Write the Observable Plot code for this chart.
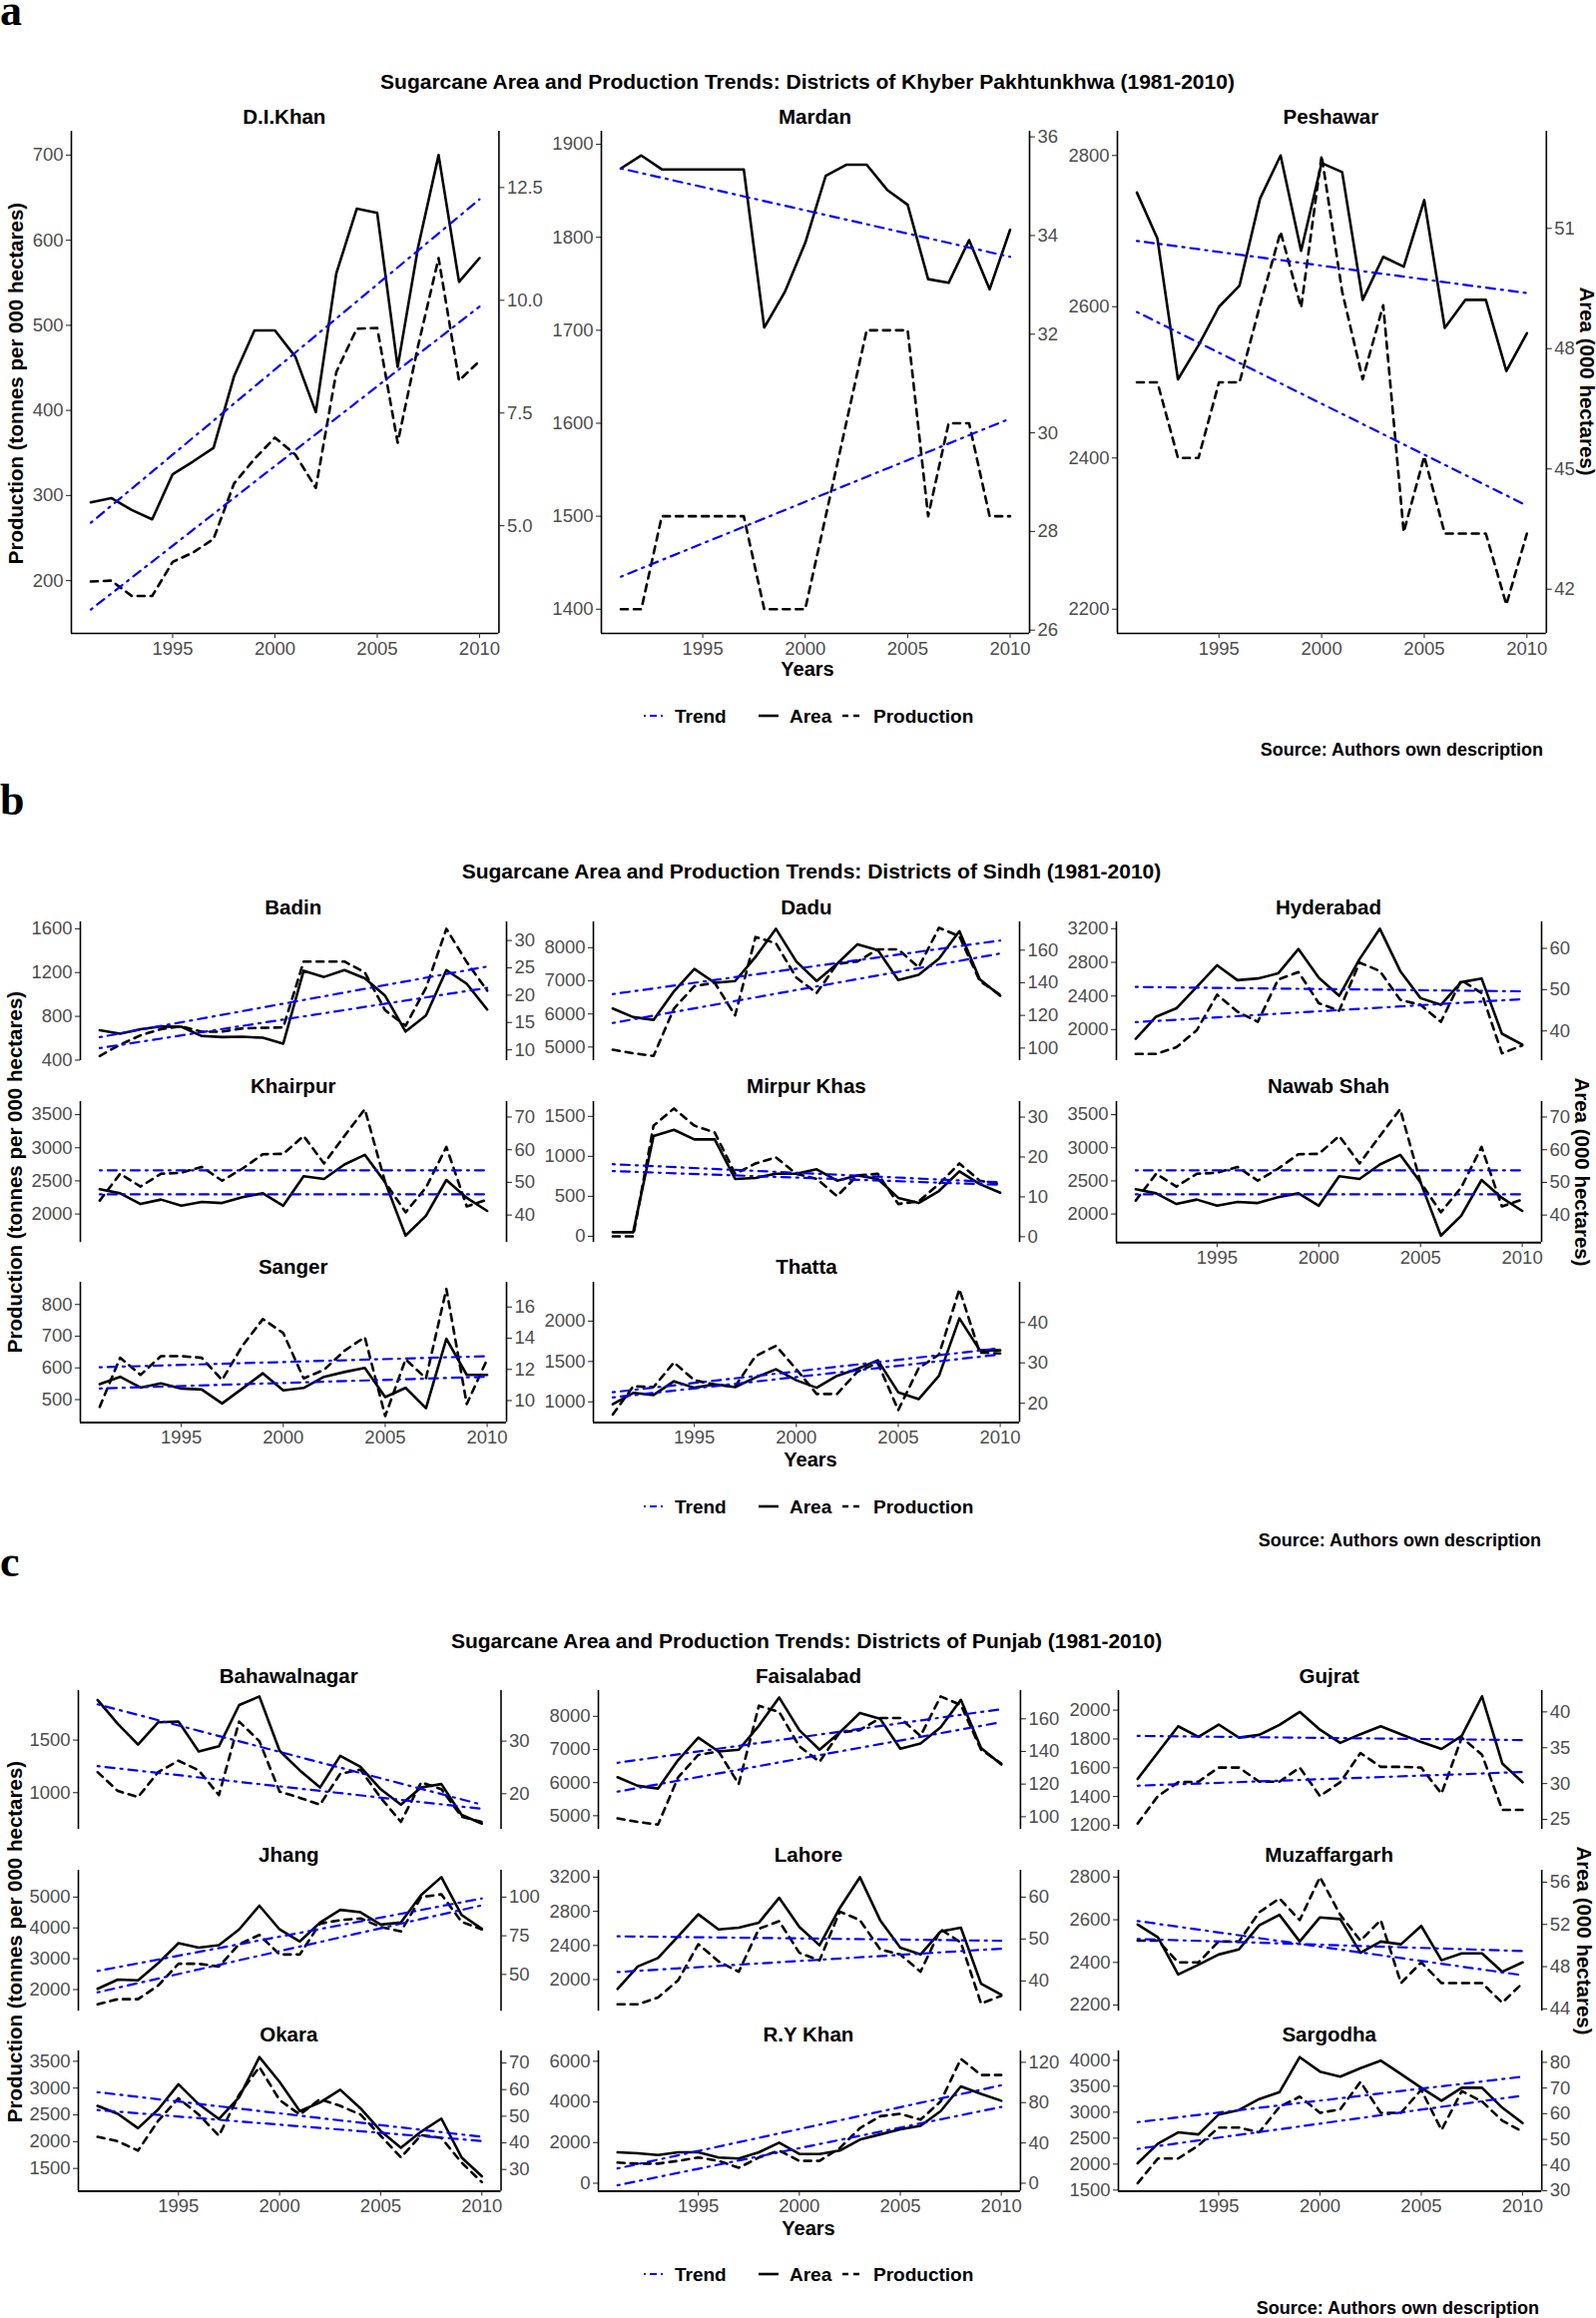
<!DOCTYPE html>
<html>
<head>
<meta charset="utf-8">
<script src="https://cdn.jsdelivr.net/npm/d3@7"></script>
<script src="https://cdn.jsdelivr.net/npm/@observablehq/plot@0.6"></script>
<style>
  html, body { margin: 0; padding: 0; background: #fff; }
  #root { position: relative; width: 1599px; height: 2322px; background: #fff; overflow: hidden;
          font-family: 'Liberation Sans', Arial, Helvetica, sans-serif; }
  .t { position: absolute; white-space: nowrap; line-height: 1; color: #000; }
</style>
</head>
<body>
<div id="root"></div>
<script>
// ---------------- DATA ----------------
const years = [1991,1992,1993,1994,1995,1996,1997,1998,1999,2000,2001,2002,2003,2004,2005,2006,2007,2008,2009,2010];
const xTicks = [1995, 2000, 2005, 2010];

// Panel a: Khyber Pakhtunkhwa
const diKhanArea = [292,297,283,272,325,340,356,440,494,494,463,398,561,637,632,451,592,700,551,579];
const diKhanProd = [199,200,182,182,222,233,249,314,343,368,348,309,445,496,497,362,476,579,435,458];
const diKhanTrend = [[268,648],[166,522]];
const diKhanLeft = [200,300,400,500,600,700];
const diKhanRight = [5,7.5,10,12.5];

const mardanArea = [1874,1888,1873,1873,1873,1873,1873,1703,1741,1794,1866,1878,1878,1851,1835,1755,1751,1797,1744,1808];
const mardanProd = [1400,1400,1500,1500,1500,1500,1500,1400,1400,1400,1500,1600,1700,1700,1700,1500,1600,1600,1500,1500];
const mardanTrend = [[1874,1779],[1435,1605]];
const mardanLeft = [1400,1500,1600,1700,1800,1900];
const mardanRight = [26,28,30,32,34,36];

const peshawarArea = [2751,2690,2504,2549,2600,2628,2743,2800,2674,2790,2778,2609,2666,2653,2741,2572,2609,2609,2515,2565];
const peshawarProd = [2500,2500,2400,2400,2500,2500,2602,2699,2599,2800,2620,2504,2602,2302,2402,2300,2300,2300,2206,2300];
const peshawarTrend = [[2687,2618],[2593,2337]];
const peshawarLeft = [2200,2400,2600,2800];
const peshawarRight = [42,45,48,51];

// Panel b: Sindh
const badinArea = [673,642,683,708,705,620,610,614,604,551,1217,1160,1223,1148,987,661,808,1223,1097,862];
const badinProd = [438,541,626,683,708,660,660,690,695,698,1301,1301,1301,1201,855,714,1060,1600,1295,1035];
const badinTrend = [[610,1255],[510,1060]];
const badinLeft = [400,800,1200,1600];
const badinRight = [10,15,20,25,30];

const daduArea = [6163,5903,5820,6682,7356,6941,6993,7720,8571,7585,6993,7512,8104,7927,7024,7180,7668,8498,7045,6547];
const daduProd = [4917,4813,4730,6163,6837,6941,5955,8322,8135,7097,6630,7512,7585,7948,7948,7408,8602,8343,6993,6578];
const daduTrend = [[6599,8218],[5727,7824]];
const daduLeft = [5000,6000,7000,8000];
const daduRight = [100,120,140,160];

const hyderabadArea = [1891,2153,2253,2507,2765,2588,2608,2668,2958,2616,2402,2837,3200,2697,2374,2294,2564,2608,1951,1822];
const hyderabadProd = [1710,1710,1790,1992,2415,2213,2092,2596,2684,2314,2225,2797,2697,2354,2294,2092,2588,2435,1718,1810];
const hyderabadTrend = [[2507,2455],[2088,2362]];
const hyderabadLeft = [2000,2400,2800,3200];
const hyderabadRight = [40,50,60];

const khairpurArea = [2374,2312,2151,2218,2125,2182,2166,2254,2312,2125,2571,2529,2747,2893,2478,1673,1974,2514,2244,2047];
const khairpurProd = [2203,2607,2415,2607,2623,2711,2503,2685,2903,2908,3178,2763,3178,3583,2478,2026,2400,3012,2114,2218];
const khairpurTrend = [[2659,2659],[2296,2296]];
const khairpurLeft = [2000,2500,3000,3500];
const khairpurRight = [40,50,60,70];

const mirpurArea = [51,51,1255,1332,1212,1212,718,730,782,782,838,696,761,718,481,417,567,812,653,546];
const mirpurProd = [0,0,1384,1599,1384,1298,782,911,988,782,718,503,761,782,404,438,653,911,696,653];
const mirpurTrend = [[902,675],[816,644]];
const mirpurLeft = [0,500,1000,1500];
const mirpurRight = [0,10,20,30];

const nawabArea = [2374,2312,2151,2218,2125,2182,2166,2254,2312,2125,2571,2529,2747,2893,2478,1673,1974,2514,2244,2047];
const nawabProd = [2203,2607,2415,2607,2623,2711,2503,2685,2903,2908,3178,2763,3178,3583,2478,2026,2400,3012,2114,2218];
const nawabTrend = [[2659,2659],[2296,2296]];
const nawabLeft = [2000,2500,3000,3500];
const nawabRight = [40,50,60,70];

const sangerArea = [549,572,538,551,535,532,488,535,583,529,537,572,587,600,508,537,473,692,578,578];
const sangerProd = [477,632,578,637,637,632,562,670,754,710,567,594,654,697,448,627,567,849,486,627];
const sangerTrend = [[602,637],[535,572]];
const sangerLeft = [500,600,700,800];
const sangerRight = [10,12,14,16];

const thattaArea = [970,1111,1085,1255,1175,1217,1183,1302,1404,1268,1175,1323,1409,1515,1119,1034,1323,2034,1638,1638];
const thattaProd = [843,1192,1183,1489,1268,1213,1192,1566,1694,1404,1098,1098,1374,1481,898,1417,1587,2396,1609,1600];
const thattaTrend = [[1119,1664],[1055,1587]];
const thattaLeft = [1000,1500,2000];
const thattaRight = [20,30,40];

// Panel c: Punjab
const bahawalArea = [1882,1654,1458,1670,1676,1392,1441,1833,1915,1399,1212,1049,1350,1245,1033,886,1049,1082,788,706];
const bahawalProd = [1196,1016,958,1196,1304,1212,977,1676,1490,1010,951,886,1180,1219,951,722,1098,1033,771,722];
const bahawalTrend = [[1840,886],[1252,846]];
const bahawalLeft = [1000,1500];
const bahawalRight = [20,30];

const faisalArea = [6163,5903,5820,6682,7356,6941,6993,7720,8571,7585,6993,7512,8104,7927,7024,7180,7668,8498,7045,6547];
const faisalProd = [4917,4813,4730,6163,6837,6941,5955,8322,8135,7097,6630,7512,7585,7948,7948,7408,8602,8343,6993,6578];
const faisalTrend = [[6599,8218],[5727,7824]];
const faisalLeft = [5000,6000,7000,8000];
const faisalRight = [100,120,140,160];

const gujratArea = [1522,1706,1888,1814,1900,1809,1828,1897,1988,1864,1773,1833,1888,1833,1778,1730,1821,2096,1630,1499];
const gujratProd = [1212,1403,1499,1503,1601,1601,1503,1503,1601,1403,1499,1702,1606,1606,1601,1420,1809,1690,1307,1307];
const gujratTrend = [[1821,1792],[1475,1570]];
const gujratLeft = [1200,1400,1600,1800,2000];
const gujratRight = [25,30,35,40];

const jhangArea = [2023,2324,2302,2859,3506,3361,3439,3952,4721,3952,3562,4175,4587,4509,4108,4175,5067,5647,4420,3974];
const jhangProd = [1521,1688,1688,2134,2837,2837,2748,3472,3774,3138,3138,4141,4253,4309,4030,3885,5000,5089,4197,3952];
const jhangTrend = [[2603,4955],[1911,4732]];
const jhangLeft = [2000,3000,4000,5000];
const jhangRight = [50,75,100];

const lahoreArea = [1891,2153,2253,2507,2765,2588,2608,2668,2958,2616,2402,2837,3200,2697,2374,2294,2564,2608,1951,1822];
const lahoreProd = [1710,1710,1790,1992,2415,2213,2092,2596,2684,2314,2225,2797,2697,2354,2294,2092,2588,2435,1718,1810];
const lahoreTrend = [[2507,2455],[2088,2362]];
const lahoreLeft = [2000,2400,2800,3200];
const lahoreRight = [40,50,60];

const muzaArea = [2577,2518,2343,2389,2437,2461,2574,2623,2498,2611,2603,2445,2498,2485,2571,2410,2442,2442,2356,2400];
const muzaProd = [2502,2502,2400,2400,2498,2498,2635,2700,2598,2800,2623,2502,2598,2303,2400,2303,2303,2303,2211,2303];
const muzaTrend = [[2594,2340],[2510,2453]];
const muzaLeft = [2200,2400,2600,2800];
const muzaRight = [44,48,52,56];

const okaraArea = [2667,2519,2250,2603,3071,2699,2423,2827,3577,3115,2571,2731,2968,2622,2199,1885,2186,2430,1705,1353];
const okaraProd = [2090,2006,1833,2391,2808,2506,2109,2878,3391,2776,2506,2795,2667,2506,2109,1705,2122,2071,1609,1244];
const okaraTrend = [[2923,2090],[2590,2013]];
const okaraLeft = [1500,2000,2500,3000,3500];
const okaraRight = [30,40,50,60,70];

const ryKhanArea = [1522,1471,1386,1522,1522,1268,1217,1522,1995,1437,1437,1606,2147,2400,2654,2823,3550,4766,4395,4057];
const ryKhanProd = [1015,964,964,1099,1268,1099,761,1268,1606,1099,1099,1724,2704,3296,3414,3127,4023,6118,5324,5324];
const ryKhanTrend = [[727,4817],[-100,3752]];
const ryKhanLeft = [0,2000,4000,6000];
const ryKhanRight = [0,40,80,120];

const sargodhaArea = [2016,2393,2611,2571,2955,3041,3253,3385,4060,3782,3683,3848,3993,3735,3471,3220,3471,3471,3087,2790];
const sargodhaProd = [1632,2108,2108,2360,2704,2704,2611,3101,3299,2988,3054,3583,2988,2988,3431,2657,3405,3206,2836,2624];
const sargodhaTrend = [[2809,3683],[2294,3319]];
const sargodhaLeft = [1500,2000,2500,3000,3500,4000];
const sargodhaRight = [30,40,50,60,70,80];

// ---------------- RENDER ----------------
const root = document.getElementById("root");
const FONT = "'Liberation Sans', Arial, Helvetica, sans-serif";
const X0 = 1990.05, X1 = 2010.95;

function txt(s, x, y, o = {}) {
  const d = document.createElement("div");
  d.className = "t";
  d.textContent = s;
  d.style.left = x + "px";
  d.style.top = y + "px";
  d.style.fontSize = (o.size || 18) + "px";
  d.style.fontWeight = o.weight || "bold";
  if (o.family) d.style.fontFamily = o.family;
  if (o.color) d.style.color = o.color;
  const ax = o.anchor === "start" ? "0" : o.anchor === "end" ? "-100%" : "-50%";
  d.style.transform = `translate(${ax},-50%)`;
  if (o.rotate) { d.style.transform = `translate(-50%,-50%) rotate(${o.rotate}deg)`; }
  root.appendChild(d);
  return d;
}

function subplot(s) {
  const ml = 80, mr = 70, mt = 12, mb = 40;
  const w = s.x1 - s.x0, h = s.y1 - s.y0;
  const [r1, l1, r2, l2] = s.map;
  const toLeft = r => l1 + (r - r1) * (l2 - l1) / (r2 - r1);
  const fmt = s.fmt ? d3.format(s.fmt) : (d => String(d));
  const tickStyle = {tickSize: 5, tickPadding: 3, label: null, fontSize: 18.5, fill: "#4d4d4d", stroke: "#333", strokeWidth: 1.1};
  const marks = [
    Plot.axisY(s.left, {...tickStyle, anchor: "left", tickFormat: d => String(d)}),
    Plot.axisY(s.right.map(toLeft), {...tickStyle, anchor: "right", tickFormat: (d, i) => fmt(s.right[i])}),
    Plot.ruleX([X0], {stroke: "black", strokeWidth: 1.6}),
    Plot.ruleX([X1], {stroke: "black", strokeWidth: 1.6}),
    Plot.lineY(s.area, {x: years, stroke: "black", strokeWidth: 2.6}),
    Plot.lineY(s.prod, {x: years, stroke: "black", strokeWidth: 2.6, strokeDasharray: "7,6"}),
    Plot.line([[1991, s.trend[0][0]], [2010, s.trend[0][1]]], {stroke: "#0000ff", strokeWidth: 2.2, strokeDasharray: "2,6,9,6"}),
    Plot.line([[1991, s.trend[1][0]], [2010, s.trend[1][1]]], {stroke: "#0000ff", strokeWidth: 2.2, strokeDasharray: "2,6,9,6"})
  ];
  if (s.showX) {
    marks.push(Plot.ruleY([s.domain[0]], {stroke: "black", strokeWidth: s.bw || 1.6}));
    marks.push(Plot.axisX(xTicks, {...tickStyle, anchor: "bottom", tickFormat: d => String(d)}));
  }
  const svg = Plot.plot({
    width: w + ml + mr, height: h + mt + mb,
    marginLeft: ml, marginRight: mr, marginTop: mt, marginBottom: mb,
    x: {domain: [X0, X1], axis: s.showX ? undefined : null},
    y: {domain: s.domain},
    style: {fontFamily: FONT, fontSize: "18.5px", color: "#4d4d4d", overflow: "visible", background: "none"},
    marks
  });
  svg.style.position = "absolute";
  svg.style.left = (s.x0 - ml) + "px";
  svg.style.top = (s.y0 - mt) + "px";
  root.appendChild(svg);
  txt(s.title, (s.x0 + s.x1) / 2, s.ty, {size: 20.5});
}

function legend(y) {
  const items = [
    {x: 645, tx: 676, label: "Trend", stroke: "#0000ff", dash: "2,4,7,4", w: 2.2},
    {x: 760, tx: 791, label: "Area", stroke: "black", dash: null, w: 2.6},
    {x: 844, tx: 875, label: "Production", stroke: "black", dash: "6,5", w: 2.6}
  ];
  for (const it of items) {
    const ns = "http://www.w3.org/2000/svg";
    const sv = document.createElementNS(ns, "svg");
    sv.setAttribute("width", 20); sv.setAttribute("height", 6);
    sv.style.position = "absolute"; sv.style.left = it.x + "px"; sv.style.top = (y - 3) + "px";
    const ln = document.createElementNS(ns, "line");
    ln.setAttribute("x1", 0); ln.setAttribute("x2", 20); ln.setAttribute("y1", 3); ln.setAttribute("y2", 3);
    ln.setAttribute("stroke", it.stroke); ln.setAttribute("stroke-width", it.w);
    if (it.dash) ln.setAttribute("stroke-dasharray", it.dash);
    sv.appendChild(ln);
    root.appendChild(sv);
    txt(it.label, it.tx, y, {size: 19, anchor: "start"});
  }
}

function letter(ch, top) {
  const d = document.createElement("div");
  d.className = "t";
  d.textContent = ch;
  d.style.left = "0px"; d.style.top = top + "px";
  d.style.lineHeight = "0.5";
  d.style.fontFamily = "'Liberation Serif', 'DejaVu Serif', serif";
  d.style.fontWeight = "bold"; d.style.fontSize = "44px";
  root.appendChild(d);
}

// ----- Panel a -----
letter("a", 0);
txt("Sugarcane Area and Production Trends: Districts of Khyber Pakhtunkhwa (1981-2010)", 809, 81, {size: 21});
const aRow = [131, 634], aTy = 117;
subplot({title: "D.I.Khan", x0: 70.6, x1: 499, y0: aRow[0], y1: aRow[1], ty: aTy, domain: [138, 728],
  left: diKhanLeft, right: diKhanRight, map: [5, 264.5, 12.5, 661.9], fmt: ".1f",
  area: diKhanArea, prod: diKhanProd, trend: diKhanTrend, showX: true});
subplot({title: "Mardan", x0: 602, x1: 1031, y0: aRow[0], y1: aRow[1], ty: aTy, domain: [1374, 1914],
  left: mardanLeft, right: mardanRight, map: [26, 1377.5, 36, 1908],
  area: mardanArea, prod: mardanProd, trend: mardanTrend, showX: true});
subplot({title: "Peshawar", x0: 1118.5, x1: 1548.3, y0: aRow[0], y1: aRow[1], ty: aTy, domain: [2168, 2832],
  left: peshawarLeft, right: peshawarRight, map: [42, 2226.4, 51, 2703.6],
  area: peshawarArea, prod: peshawarProd, trend: peshawarTrend, showX: true});
txt("Production (tonnes per 000 hectares)", 15.5, 384, {size: 20.5, rotate: -90});
txt("Area (000 hectares)", 1590, 382, {size: 20.5, rotate: 90});
txt("Years", 809, 670, {size: 20});
legend(717);
txt("Source: Authors own description", 1546, 751, {size: 18, anchor: "end"});

// ----- Panel b -----
letter("b", 791);
txt("Sugarcane Area and Production Trends: Districts of Sindh (1981-2010)", 813, 872, {size: 21});
const bRows = [[923.4, 1062.5, 909], [1103.2, 1244.4, 1088], [1284, 1424.4, 1269]];
const bCols = [[80.2, 507.2], [594.4, 1021.4], [1118, 1544]];
const bSpecs = [
  {title: "Badin", r: 0, c: 0, domain: [394, 1663], left: badinLeft, right: badinRight, map: [10, 494, 30, 1493], area: badinArea, prod: badinProd, trend: badinTrend},
  {title: "Dadu", r: 0, c: 1, domain: [4585, 8779], left: daduLeft, right: daduRight, map: [100, 4969, 160, 7927], area: daduArea, prod: daduProd, trend: daduTrend},
  {title: "Hyderabad", r: 0, c: 2, domain: [1629, 3281], left: hyderabadLeft, right: hyderabadRight, map: [40, 1984, 60, 2966], area: hyderabadArea, prod: hyderabadProd, trend: hyderabadTrend},
  {title: "Khairpur", r: 1, c: 0, domain: [1569, 3697], left: khairpurLeft, right: khairpurRight, map: [40, 1984, 70, 3464], area: khairpurArea, prod: khairpurProd, trend: khairpurTrend},
  {title: "Mirpur Khas", r: 1, c: 1, domain: [-78, 1685], left: mirpurLeft, right: mirpurRight, map: [0, -5, 30, 1491], area: mirpurArea, prod: mirpurProd, trend: mirpurTrend},
  {title: "Nawab Shah", r: 1, c: 2, domain: [1569, 3697], left: nawabLeft, right: nawabRight, map: [40, 1984, 70, 3464], area: nawabArea, prod: nawabProd, trend: nawabTrend, showX: true},
  {title: "Sanger", r: 2, c: 0, domain: [428, 870], left: sangerLeft, right: sangerRight, map: [10, 497, 16, 792], area: sangerArea, prod: sangerProd, trend: sangerTrend, showX: true},
  {title: "Thatta", r: 2, c: 1, domain: [745, 2481], left: thattaLeft, right: thattaRight, map: [20, 983, 40, 1983], area: thattaArea, prod: thattaProd, trend: thattaTrend, showX: true}
];
for (const s of bSpecs) {
  subplot({...s, x0: bCols[s.c][0], x1: bCols[s.c][1], y0: bRows[s.r][0], y1: bRows[s.r][1], ty: bRows[s.r][2], bw: 2});
}
txt("Production (tonnes per 000 hectares)", 15, 1174, {size: 20.5, rotate: -90});
txt("Area (000 hectares)", 1585, 1174, {size: 20.5, rotate: 90});
txt("Years", 812, 1462, {size: 20});
legend(1509);
txt("Source: Authors own description", 1544, 1543, {size: 18, anchor: "end"});

// ----- Panel c -----
letter("c", 1554);
txt("Sugarcane Area and Production Trends: Districts of Punjab (1981-2010)", 808, 1643, {size: 21});
const cRows = [[1693.4, 1832.5, 1679], [1873.2, 2014.4, 1858], [2054, 2194.4, 2038]];
const cCols = [[77.5, 501], [598.5, 1021.4], [1119.6, 1543.8]];
const cSpecs = [
  {title: "Bahawalnagar", r: 0, c: 0, domain: [650, 1971], left: bahawalLeft, right: bahawalRight, map: [20, 990, 30, 1490], area: bahawalArea, prod: bahawalProd, trend: bahawalTrend},
  {title: "Faisalabad", r: 0, c: 1, domain: [4585, 8779], left: faisalLeft, right: faisalRight, map: [100, 4969, 160, 7927], area: faisalArea, prod: faisalProd, trend: faisalTrend},
  {title: "Gujrat", r: 0, c: 2, domain: [1171, 2136], left: gujratLeft, right: gujratRight, map: [25, 1241, 40, 1988], area: gujratArea, prod: gujratProd, trend: gujratTrend},
  {title: "Jhang", r: 1, c: 0, domain: [1298, 5870], left: jhangLeft, right: jhangRight, map: [50, 2491, 100, 5000], area: jhangArea, prod: jhangProd, trend: jhangTrend},
  {title: "Lahore", r: 1, c: 1, domain: [1629, 3281], left: lahoreLeft, right: lahoreRight, map: [40, 1984, 60, 2966], area: lahoreArea, prod: lahoreProd, trend: lahoreTrend},
  {title: "Muzaffargarh", r: 1, c: 2, domain: [2171, 2832], left: muzaLeft, right: muzaRight, map: [44, 2182, 56, 2776], area: muzaArea, prod: muzaProd, trend: muzaTrend},
  {title: "Okara", r: 2, c: 0, domain: [1077, 3692], left: okaraLeft, right: okaraRight, map: [30, 1481, 70, 3468], area: okaraArea, prod: okaraProd, trend: okaraTrend, showX: true},
  {title: "R.Y Khan", r: 2, c: 1, domain: [-388, 6507], left: ryKhanLeft, right: ryKhanRight, map: [0, 0, 120, 5949], area: ryKhanArea, prod: ryKhanProd, trend: ryKhanTrend, showX: true},
  {title: "Sargodha", r: 2, c: 2, domain: [1480, 4179], left: sargodhaLeft, right: sargodhaRight, map: [30, 1487, 80, 3960], area: sargodhaArea, prod: sargodhaProd, trend: sargodhaTrend, showX: true}
];
for (const s of cSpecs) {
  subplot({...s, x0: cCols[s.c][0], x1: cCols[s.c][1], y0: cRows[s.r][0], y1: cRows[s.r][1], ty: cRows[s.r][2], bw: 2});
}
txt("Production (tonnes per 000 hectares)", 15, 1945, {size: 20.5, rotate: -90});
txt("Area (000 hectares)", 1587, 1944, {size: 20.5, rotate: 90});
txt("Years", 810, 2232, {size: 20});
legend(2278);
txt("Source: Authors own description", 1542, 2312, {size: 18, anchor: "end"});
</script>
</body>
</html>
